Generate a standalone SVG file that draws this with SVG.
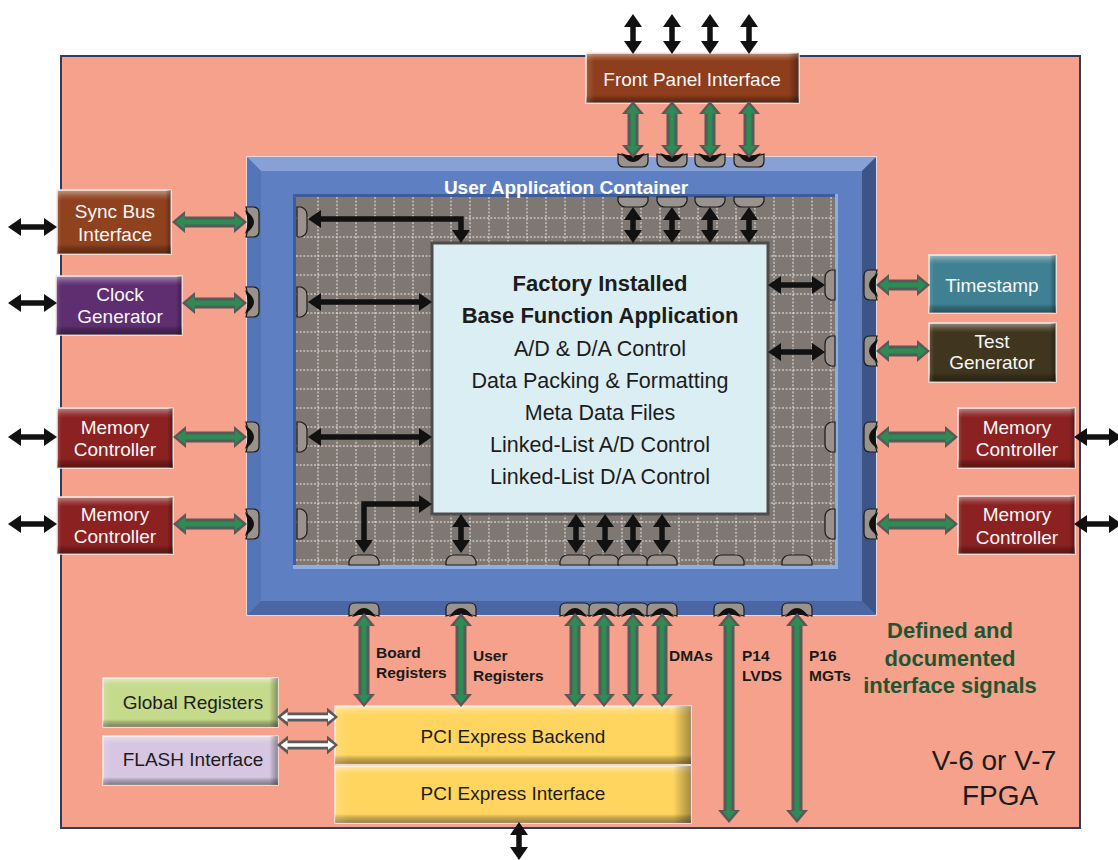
<svg xmlns="http://www.w3.org/2000/svg" width="1118" height="860" viewBox="0 0 1118 860">
<style>
.t{font-family:"Liberation Sans",Arial,sans-serif;font-size:19px;text-anchor:middle}
.w{fill:#f7f7f7}
.d{fill:#1c1c1c}
.lb{font-family:"Liberation Sans",Arial,sans-serif;font-size:15.5px;font-weight:bold;fill:#1a1a1a}
.gr{font-family:"Liberation Sans",Arial,sans-serif;font-size:22px;font-weight:bold;fill:#1e5631;text-anchor:middle}
.bx{stroke:#f4e9e4;stroke-width:1.5}
.ba{fill:none;stroke:#111;stroke-width:5.5;marker-start:url(#mb);marker-end:url(#mb)}
.gO{fill:none;stroke:#595959;stroke-width:11;marker-start:url(#mgo);marker-end:url(#mgo)}
.gI{fill:none;stroke:#2c8c54;stroke-width:5;marker-start:url(#mgi);marker-end:url(#mgi)}
.wO{fill:none;stroke:#5a5a5a;stroke-width:9;marker-start:url(#mwo);marker-end:url(#mwo)}
.wI{fill:none;stroke:#fff;stroke-width:3.5;marker-start:url(#mwi);marker-end:url(#mwi)}
.pt{fill:#9a938d;stroke:#1a1a1a;stroke-width:1.2}
</style>
<defs>
<marker id="mb" markerUnits="userSpaceOnUse" viewBox="0 0 13 18" markerWidth="13" markerHeight="18" refX="1" refY="9" orient="auto-start-reverse"><path d="M0,0 L13,9 L0,18 Z" fill="#111"/></marker>
<marker id="mgo" markerUnits="userSpaceOnUse" viewBox="0 0 13 22" markerWidth="13" markerHeight="22" refX="1" refY="11" orient="auto-start-reverse"><path d="M0,0 L13,11 L0,22 Z" fill="#595959"/></marker>
<marker id="mgi" markerUnits="userSpaceOnUse" viewBox="0 0 9 14" markerWidth="9" markerHeight="14" refX="0.5" refY="7" orient="auto-start-reverse"><path d="M0,0 L9,7 L0,14 Z" fill="#2c8c54"/></marker>
<marker id="mwo" markerUnits="userSpaceOnUse" viewBox="0 0 11 19" markerWidth="11" markerHeight="19" refX="1" refY="9.5" orient="auto-start-reverse"><path d="M0,0 L11,9.5 L0,19 Z" fill="#5a5a5a"/></marker>
<marker id="mwi" markerUnits="userSpaceOnUse" viewBox="0 0 7 10" markerWidth="7" markerHeight="10" refX="0.5" refY="5" orient="auto-start-reverse"><path d="M0,0 L7,5 L0,10 Z" fill="#fff"/></marker>
<linearGradient id="bv" x1="0" y1="0" x2="0" y2="1">
<stop offset="0" stop-color="#fff" stop-opacity="0.45"/>
<stop offset="0.1" stop-color="#fff" stop-opacity="0.12"/>
<stop offset="0.16" stop-color="#fff" stop-opacity="0"/>
<stop offset="0.84" stop-color="#000" stop-opacity="0"/>
<stop offset="0.9" stop-color="#000" stop-opacity="0.2"/>
<stop offset="1" stop-color="#000" stop-opacity="0.4"/>
</linearGradient>
<linearGradient id="bh" x1="0" y1="0" x2="1" y2="0">
<stop offset="0" stop-color="#fff" stop-opacity="0.15"/>
<stop offset="0.04" stop-color="#fff" stop-opacity="0"/>
<stop offset="0.95" stop-color="#000" stop-opacity="0"/>
<stop offset="1" stop-color="#000" stop-opacity="0.35"/>
</linearGradient>
<g id="portO"><path class="pt" d="M-4,-15 H3 Q9,-15 9,-9 V9 Q9,15 3,15 H-4 Q1,0 -4,-15 Z"/><path d="M-5,-12 Q4,-6 4,0 Q4,6 -5,12 Q0,0 -5,-12 Z" fill="#111"/></g>
<g id="portI"><path class="pt" d="M0,-15 H4 Q10,-13 10,-7 V7 Q10,13 4,15 H0 Z"/></g>
</defs>

<rect width="1118" height="860" fill="#fff"/>
<g id="fpga">
<rect x="61" y="56" width="1019" height="772" fill="#f5a18b" stroke="#2f3c5c" stroke-width="2"/>
<text class="t d" x="994" y="770" style="font-size:28px">V-6 or V-7</text>
<text class="t d" x="1000" y="805" style="font-size:28px">FPGA</text>
</g>

<g id="container">
<rect x="247" y="157" width="629" height="458" fill="#5e80c3" stroke="#e3e9f4" stroke-width="1.5"/>
<polygon points="247,157 876,157 862,171 261,171" fill="#87a1d6"/>
<polygon points="247,157 261,171 261,601 247,615" fill="#5475b8"/>
<polygon points="247,615 876,615 862,601 261,601" fill="#4b66a4"/>
<polygon points="876,157 876,615 862,601 862,171" fill="#3c5488"/>
<rect x="293" y="194" width="545" height="375" fill="#8eade0"/>
<rect x="293" y="194" width="542" height="371" fill="#3f5c9c"/>
<rect x="296" y="197" width="539" height="368" fill="#7f7772"/>
<path d="M318,197V565M337,197V565M356,197V565M375,197V565M394,197V565M413,197V565M432,197V565M451,197V565M470,197V565M489,197V565M508,197V565M527,197V565M546,197V565M565,197V565M584,197V565M603,197V565M622,197V565M641,197V565M660,197V565M679,197V565M698,197V565M717,197V565M736,197V565M755,197V565M774,197V565M793,197V565M812,197V565M831,197V565M296,218H835M296,237H835M296,256H835M296,275H835M296,294H835M296,313H835M296,332H835M296,351H835M296,370H835M296,389H835M296,408H835M296,427H835M296,446H835M296,465H835M296,484H835M296,503H835M296,522H835M296,541H835M296,560H835" stroke="#fff" stroke-width="1" stroke-dasharray="2,1.6" opacity="0.85"/>
<text x="566" y="194" style="font-family:'Liberation Sans',Arial,sans-serif;font-size:19px;font-weight:bold;fill:#fff;text-anchor:middle">User Application Container</text>
</g>

<g id="base-app">
<rect x="432" y="243" width="336" height="271" fill="#dbeef3" stroke="#4d4d4d" stroke-width="3"/>
<text class="t d" x="600" y="291" style="font-size:22px;font-weight:bold">Factory Installed</text>
<text class="t d" x="600" y="323" style="font-size:22px;font-weight:bold">Base Function Application</text>
<text class="t d" x="600" y="356" style="font-size:21.5px">A/D &amp; D/A Control</text>
<text class="t d" x="600" y="388" style="font-size:21.5px">Data Packing &amp; Formatting</text>
<text class="t d" x="600" y="420" style="font-size:21.5px">Meta Data Files</text>
<text class="t d" x="600" y="452" style="font-size:21.5px">Linked-List A/D Control</text>
<text class="t d" x="600" y="484" style="font-size:21.5px">Linked-List D/A Control</text>
</g>

<g id="front-panel"><rect class="bx" x="586" y="53" width="213" height="50" fill="#8e3e1c"/><rect x="586" y="53" width="213" height="50" fill="url(#bv)"/><rect x="586" y="53" width="213" height="50" fill="url(#bh)"/><text class="t w" x="692" y="86">Front Panel Interface</text></g>
<g id="sync-bus"><rect class="bx" x="57" y="190" width="114" height="64" fill="#90421f"/><rect x="57" y="190" width="114" height="64" fill="url(#bv)"/><rect x="57" y="190" width="114" height="64" fill="url(#bh)"/><text class="t w" x="115" y="218">Sync Bus</text><text class="t w" x="115" y="241">Interface</text></g>
<g id="clock-gen"><rect class="bx" x="56" y="276" width="126" height="59" fill="#5e2e70"/><rect x="56" y="276" width="126" height="59" fill="url(#bv)"/><rect x="56" y="276" width="126" height="59" fill="url(#bh)"/><text class="t w" x="120" y="301">Clock</text><text class="t w" x="120" y="323">Generator</text></g>
<g id="mem-left-1"><rect class="bx" x="57" y="408" width="116" height="60" fill="#8c2121"/><rect x="57" y="408" width="116" height="60" fill="url(#bv)"/><rect x="57" y="408" width="116" height="60" fill="url(#bh)"/><text class="t w" x="115" y="434">Memory</text><text class="t w" x="115" y="456">Controller</text></g>
<g id="mem-left-2"><rect class="bx" x="57" y="497" width="116" height="57" fill="#8c2121"/><rect x="57" y="497" width="116" height="57" fill="url(#bv)"/><rect x="57" y="497" width="116" height="57" fill="url(#bh)"/><text class="t w" x="115" y="521">Memory</text><text class="t w" x="115" y="543">Controller</text></g>
<g id="timestamp"><rect class="bx" x="929" y="255" width="127" height="58" fill="#3f8093"/><rect x="929" y="255" width="127" height="58" fill="url(#bv)"/><rect x="929" y="255" width="127" height="58" fill="url(#bh)"/><text class="t w" x="992" y="292">Timestamp</text></g>
<g id="test-gen"><rect class="bx" x="929" y="323" width="127" height="59" fill="#40361f"/><rect x="929" y="323" width="127" height="59" fill="url(#bv)"/><rect x="929" y="323" width="127" height="59" fill="url(#bh)"/><text class="t w" x="992" y="348">Test</text><text class="t w" x="992" y="369">Generator</text></g>
<g id="mem-right-1"><rect class="bx" x="958" y="408" width="117" height="60" fill="#8c2121"/><rect x="958" y="408" width="117" height="60" fill="url(#bv)"/><rect x="958" y="408" width="117" height="60" fill="url(#bh)"/><text class="t w" x="1017" y="434">Memory</text><text class="t w" x="1017" y="456">Controller</text></g>
<g id="mem-right-2"><rect class="bx" x="958" y="496" width="117" height="58" fill="#8c2121"/><rect x="958" y="496" width="117" height="58" fill="url(#bv)"/><rect x="958" y="496" width="117" height="58" fill="url(#bh)"/><text class="t w" x="1017" y="521">Memory</text><text class="t w" x="1017" y="544">Controller</text></g>
<g id="global-reg"><rect class="bx" x="103" y="678" width="175" height="49" fill="#c6da8c"/><rect x="103" y="678" width="175" height="49" fill="url(#bv)"/><rect x="103" y="678" width="175" height="49" fill="url(#bh)"/><text class="t d" x="193" y="709">Global Registers</text></g>
<g id="flash"><rect class="bx" x="103" y="736" width="175" height="49" fill="#d7c6e2"/><rect x="103" y="736" width="175" height="49" fill="url(#bv)"/><rect x="103" y="736" width="175" height="49" fill="url(#bh)"/><text class="t d" x="193" y="766">FLASH Interface</text></g>
<g id="pcie-backend"><rect class="bx" x="335" y="706" width="356" height="58" fill="#ffd55f"/><rect x="335" y="706" width="356" height="58" fill="url(#bv)"/><rect x="335" y="706" width="356" height="58" fill="url(#bh)"/><text class="t d" x="513" y="743">PCI Express Backend</text></g>
<g id="pcie-interface"><rect class="bx" x="335" y="766" width="356" height="57" fill="#ffd55f"/><rect x="335" y="766" width="356" height="57" fill="url(#bv)"/><rect x="335" y="766" width="356" height="57" fill="url(#bh)"/><text class="t d" x="513" y="800">PCI Express Interface</text></g>

<g id="ports">
<use href="#portO" transform="translate(250,222)"/>
<use href="#portO" transform="translate(250,302)"/>
<use href="#portO" transform="translate(250,437)"/>
<use href="#portO" transform="translate(250,524)"/>
<use href="#portO" transform="translate(873,285) scale(-1,1)"/>
<use href="#portO" transform="translate(873,351) scale(-1,1)"/>
<use href="#portO" transform="translate(873,437) scale(-1,1)"/>
<use href="#portO" transform="translate(873,524) scale(-1,1)"/>
<use href="#portO" transform="translate(633,158) rotate(90)"/>
<use href="#portO" transform="translate(672,158) rotate(90)"/>
<use href="#portO" transform="translate(710,158) rotate(90)"/>
<use href="#portO" transform="translate(749,158) rotate(90)"/>
<use href="#portO" transform="translate(364,612) rotate(-90)"/>
<use href="#portO" transform="translate(461,612) rotate(-90)"/>
<use href="#portO" transform="translate(575,612) rotate(-90)"/>
<use href="#portO" transform="translate(604,612) rotate(-90)"/>
<use href="#portO" transform="translate(633,612) rotate(-90)"/>
<use href="#portO" transform="translate(662,612) rotate(-90)"/>
<use href="#portO" transform="translate(729,612) rotate(-90)"/>
<use href="#portO" transform="translate(797,612) rotate(-90)"/>
<use href="#portI" transform="translate(297,222)"/>
<use href="#portI" transform="translate(297,302)"/>
<use href="#portI" transform="translate(297,437)"/>
<use href="#portI" transform="translate(297,524)"/>
<use href="#portI" transform="translate(835,285) scale(-1,1)"/>
<use href="#portI" transform="translate(835,351) scale(-1,1)"/>
<use href="#portI" transform="translate(835,437) scale(-1,1)"/>
<use href="#portI" transform="translate(835,524) scale(-1,1)"/>
<use href="#portI" transform="translate(633,197) rotate(90)"/>
<use href="#portI" transform="translate(672,197) rotate(90)"/>
<use href="#portI" transform="translate(710,197) rotate(90)"/>
<use href="#portI" transform="translate(749,197) rotate(90)"/>
<use href="#portI" transform="translate(364,565) rotate(-90)"/>
<use href="#portI" transform="translate(461,565) rotate(-90)"/>
<use href="#portI" transform="translate(575,565) rotate(-90)"/>
<use href="#portI" transform="translate(604,565) rotate(-90)"/>
<use href="#portI" transform="translate(633,565) rotate(-90)"/>
<use href="#portI" transform="translate(662,565) rotate(-90)"/>
<use href="#portI" transform="translate(729,565) rotate(-90)"/>
<use href="#portI" transform="translate(797,565) rotate(-90)"/>
</g>

<g id="connectors">
<path class="gO" d="M184,222H235"/><path class="gI" d="M184,222H235"/>
<path class="gO" d="M194,303H235"/><path class="gI" d="M194,303H235"/>
<path class="gO" d="M185,437H235"/><path class="gI" d="M185,437H235"/>
<path class="gO" d="M185,524H235"/><path class="gI" d="M185,524H235"/>
<path class="gO" d="M888,285H918"/><path class="gI" d="M888,285H918"/>
<path class="gO" d="M888,351H918"/><path class="gI" d="M888,351H918"/>
<path class="gO" d="M888,437H946"/><path class="gI" d="M888,437H946"/>
<path class="gO" d="M888,524H946"/><path class="gI" d="M888,524H946"/>
<path class="gO" d="M633,113V146"/><path class="gI" d="M633,113V146"/>
<path class="gO" d="M672,113V146"/><path class="gI" d="M672,113V146"/>
<path class="gO" d="M710,113V146"/><path class="gI" d="M710,113V146"/>
<path class="gO" d="M749,113V146"/><path class="gI" d="M749,113V146"/>
<path class="gO" d="M364,625V695"/><path class="gI" d="M364,625V695"/>
<path class="gO" d="M461,625V695"/><path class="gI" d="M461,625V695"/>
<path class="gO" d="M575,625V695"/><path class="gI" d="M575,625V695"/>
<path class="gO" d="M604,625V695"/><path class="gI" d="M604,625V695"/>
<path class="gO" d="M633,625V695"/><path class="gI" d="M633,625V695"/>
<path class="gO" d="M662,625V695"/><path class="gI" d="M662,625V695"/>
<path class="gO" d="M729,625V811"/><path class="gI" d="M729,625V811"/>
<path class="gO" d="M797,625V811"/><path class="gI" d="M797,625V811"/>
<path class="wO" d="M287,717H328"/><path class="wI" d="M287,717H328"/>
<path class="wO" d="M287,745H328"/><path class="wI" d="M287,745H328"/>
<path class="ba" d="M633,26V42"/>
<path class="ba" d="M672,26V42"/>
<path class="ba" d="M710,26V42"/>
<path class="ba" d="M749,26V42"/>
<path class="ba" d="M20,227H45"/>
<path class="ba" d="M20,303H45"/>
<path class="ba" d="M20,437H45"/>
<path class="ba" d="M20,524H45"/>
<path class="ba" d="M1086,437H1110"/>
<path class="ba" d="M1086,524H1110"/>
<path class="ba" d="M519,834V848"/>
<path class="ba" d="M320,219H461V231"/>
<path class="ba" d="M320,302H420"/>
<path class="ba" d="M320,437H420"/>
<path class="ba" d="M364,541V504H420"/>
<path class="ba" d="M461,526V541"/>
<path class="ba" d="M576,526V541"/>
<path class="ba" d="M605,526V541"/>
<path class="ba" d="M633,526V541"/>
<path class="ba" d="M662,526V541"/>
<path class="ba" d="M633,219V231"/>
<path class="ba" d="M672,219V231"/>
<path class="ba" d="M710,219V231"/>
<path class="ba" d="M749,219V231"/>
<path class="ba" d="M780,285H813"/>
<path class="ba" d="M780,352H813"/>
</g>

<g id="labels">
<text class="lb" x="376" y="658">Board</text>
<text class="lb" x="376" y="678">Registers</text>
<text class="lb" x="473" y="661">User</text>
<text class="lb" x="473" y="681">Registers</text>
<text class="lb" x="669" y="661">DMAs</text>
<text class="lb" x="742" y="661">P14</text>
<text class="lb" x="742" y="681">LVDS</text>
<text class="lb" x="809" y="661">P16</text>
<text class="lb" x="809" y="681">MGTs</text>
<text class="gr" x="950" y="638">Defined and</text>
<text class="gr" x="950" y="666">documented</text>
<text class="gr" x="950" y="693">interface signals</text>
</g>
</svg>
